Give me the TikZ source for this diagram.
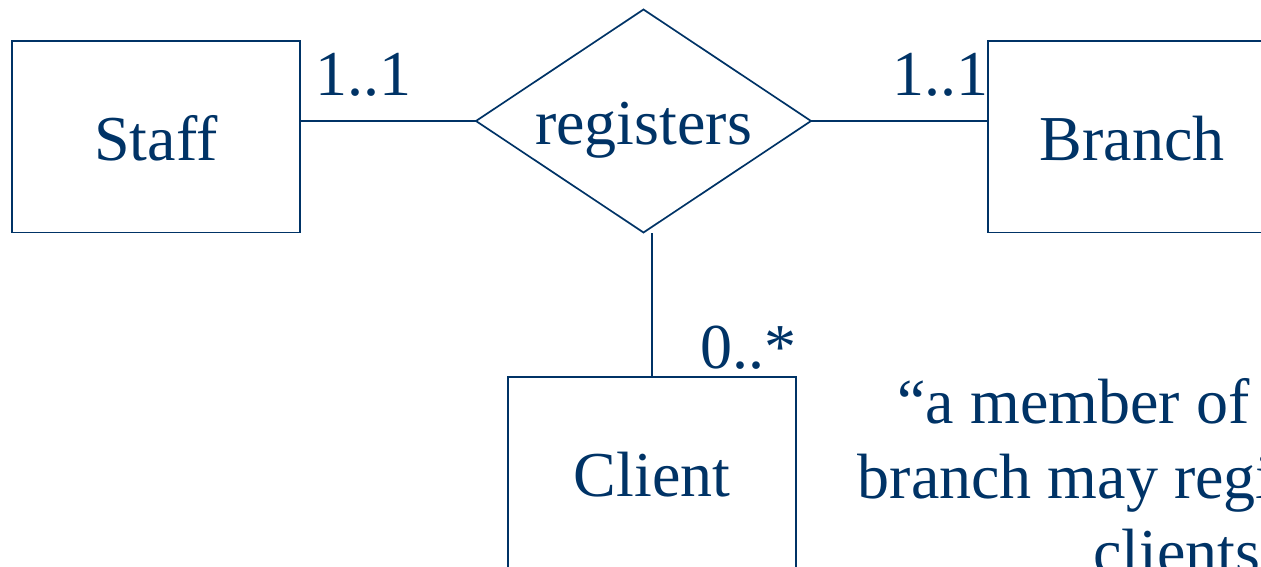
\documentclass[tikz,border=0pt]{standalone}
\usepackage{fontspec}
\setmainfont{Liberation Serif}
\usetikzlibrary{shapes.geometric}
\definecolor{navy}{RGB}{0,51,102}
\tikzset{
  ink/.style={draw=navy, line width=1.7pt},
  txt/.style={text=navy, font=\fontsize{64}{75}\selectfont, inner sep=0pt},
  entity/.style={ink, txt, rectangle, minimum width=288pt, minimum height=191.5pt,
                 outer sep=0pt, text height=47pt, text depth=0pt},
  relation/.style={ink, txt, diamond, aspect=1.5, minimum width=335pt, minimum height=223pt,
                   outer sep=0pt, text height=48pt, text depth=0pt},
  mult/.style={txt, anchor=base west},
}
\begin{document}
\begin{tikzpicture}[x=1pt, y=-1pt]
  \useasboundingbox (0,0) rectangle (1261,567);
  \clip (0,0) rectangle (1261,567);

  % entities and the relationship
  \node[entity]   (staff)  at (156,136.8) {Staff};
  \node[entity]   (branch) at (1132,136.8) {Branch};
  \node[entity]   (client) at (652,472.8) {Client};
  \node[relation] (reg)    at (643.5,121) {registers};

  % connectors
  \draw[ink] (staff.east |- reg.west) -- (reg.west);
  \draw[ink] (reg.east) -- (branch.west |- reg.east);
  \draw[ink] (client.north) -- (client.north |- reg.south);

  % multiplicities
  \node[mult] (m1) at (315,96)  {1..1};
  \node[mult] (m2) at (892,96)  {1..1};
  \node[mult] (m3) at (700,368) {0..*};

  % reading of the relationship
  \node[txt, align=center] (note) at (1191,476)
    {“a member of staff at a\\branch may register many\\clients”};
\end{tikzpicture}
\end{document}
